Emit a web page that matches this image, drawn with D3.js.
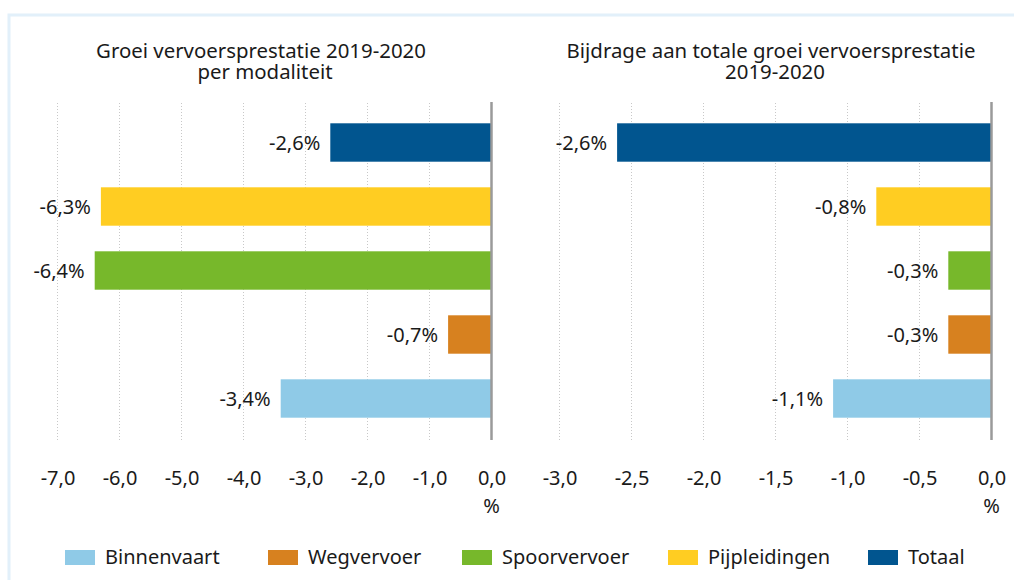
<!DOCTYPE html>
<html>
<head>
<meta charset="utf-8">
<script src="https://cdn.jsdelivr.net/npm/d3@7"></script>
<style>
  html, body { margin: 0; padding: 0; background: #fff; }
  svg text { font-family: "Noto Sans", "Open Sans", sans-serif; fill: #1a1a1a; }
</style>
</head>
<body>
<div id="chart"></div>
<script>
// ── Data ─────────────────────────────────────────────────────────────────
const categories   = ['Totaal', 'Pijpleidingen', 'Spoorvervoer', 'Wegvervoer', 'Binnenvaart'];
const growth       = [-2.6, -6.3, -6.4, -0.7, -3.4];   // groei per modaliteit
const contribution = [-2.6, -0.8, -0.3, -0.3, -1.1];   // bijdrage aan totale groei
const leftTicks    = [-7, -6, -5, -4, -3, -2, -1, 0];
const rightTicks   = [-3, -2.5, -2, -1.5, -1, -0.5, 0];
const legendOrder  = ['Binnenvaart', 'Wegvervoer', 'Spoorvervoer', 'Pijpleidingen', 'Totaal'];
const colors = {
    Binnenvaart:   '#8fcae7',
    Wegvervoer:    '#d7811f',
    Spoorvervoer:  '#77b82b',
    Pijpleidingen: '#ffcd22',
    Totaal:        '#01558f'
};

const nl = d3.formatLocale({ decimal: ',', thousands: '.', grouping: [3], currency: ['€', ''], minus: '-' });
const fmt1 = nl.format('.1f');

// ── Layout ────────────────────────────────────────────────────────────────
const width = 1014, height = 580;
const FS = 20;
const gridTop = 103, gridBottom = 440;

const svg = d3.select('#chart').append('svg')
    .attr('width', width).attr('height', height);

// light frame
svg.append('path')
    .attr('d', 'M9,' + height + ' V15 H' + width)
    .attr('fill', 'none').attr('stroke', '#e2f0fa').attr('stroke-width', 3);

const yScale = d3.scaleBand()
    .domain(categories)
    .range([97.7, 443.3])
    .paddingInner(0.4).paddingOuter(0.4);

function panel(values, ticks, x0, x1, titleLines, titleX) {
    const xScale = d3.scaleLinear().domain([ticks[0], 0]).range([x0, x1]);
    const g = svg.append('g');

    // two-line title in one text element
    const title = g.append('text')
        .attr('text-anchor', 'middle')
        .style('font-size', '20.4px');
    titleLines.forEach((t, i) => {
        title.append('tspan')
            .attr('x', titleX + i * 4).attr('y', 58 + i * 21)
            .text(t);
    });

    // dotted grid
    g.selectAll('.grid')
        .data(ticks.filter(d => d !== 0))
        .join('line')
        .attr('x1', d => xScale(d)).attr('x2', d => xScale(d))
        .attr('y1', gridTop).attr('y2', gridBottom)
        .attr('stroke', '#c8c8c8').attr('stroke-width', 1)
        .attr('stroke-dasharray', '1,2');

    // bars
    const rows = categories.map((c, i) => ({ cat: c, value: values[i] }));
    g.selectAll('.bar')
        .data(rows)
        .join('rect')
        .attr('x', d => xScale(d.value))
        .attr('y', d => yScale(d.cat))
        .attr('width', d => xScale(0) - xScale(d.value))
        .attr('height', yScale.bandwidth())
        .attr('fill', d => colors[d.cat]);

    // value labels
    g.selectAll('.lbl')
        .data(rows)
        .join('text')
        .attr('x', d => xScale(d.value) - 10)
        .attr('y', d => yScale(d.cat) + yScale.bandwidth() / 2)
        .attr('dy', '0.36em')
        .attr('text-anchor', 'end')
        .style('font-size', FS + 'px')
        .text(d => fmt1(d.value) + '%');

    // zero line
    g.append('line')
        .attr('x1', xScale(0)).attr('x2', xScale(0))
        .attr('y1', gridTop - 1).attr('y2', gridBottom)
        .attr('stroke', '#9a9a9a').attr('stroke-width', 2.5);

    // x axis labels
    const axis = g.append('g')
        .attr('transform', 'translate(0,' + gridBottom + ')')
        .call(d3.axisBottom(xScale).tickValues(ticks).tickFormat(fmt1).tickSize(0).tickPadding(0));
    axis.select('.domain').remove();
    axis.selectAll('text')
        .attr('y', 45).attr('dy', 0)
        .style('font-size', FS + 'px')
        .style('font-family', '"Noto Sans", sans-serif')
        .attr('fill', '#1a1a1a');

    g.append('text')
        .attr('x', xScale(0)).attr('y', 513)
        .attr('text-anchor', 'middle')
        .style('font-size', FS + 'px')
        .text('%');
}

panel(growth, leftTicks, 57.5, 491.5,
      ['Groei vervoersprestatie 2019-2020', 'per modaliteit'], 261);
panel(contribution, rightTicks, 559.5, 991.5,
      ['Bijdrage aan totale groei vervoersprestatie', '2019-2020'], 771);

// ── Legend ────────────────────────────────────────────────────────────────
const legendX = [65, 268, 462, 668, 868];
const legend = svg.append('g');
legendOrder.forEach((name, i) => {
    legend.append('rect')
        .attr('x', legendX[i]).attr('y', 550)
        .attr('width', 30).attr('height', 15)
        .attr('fill', colors[name]);
    legend.append('text')
        .attr('x', legendX[i] + 40).attr('y', 564)
        .style('font-size', FS + 'px')
        .text(name);
});
</script>
</body>
</html>
